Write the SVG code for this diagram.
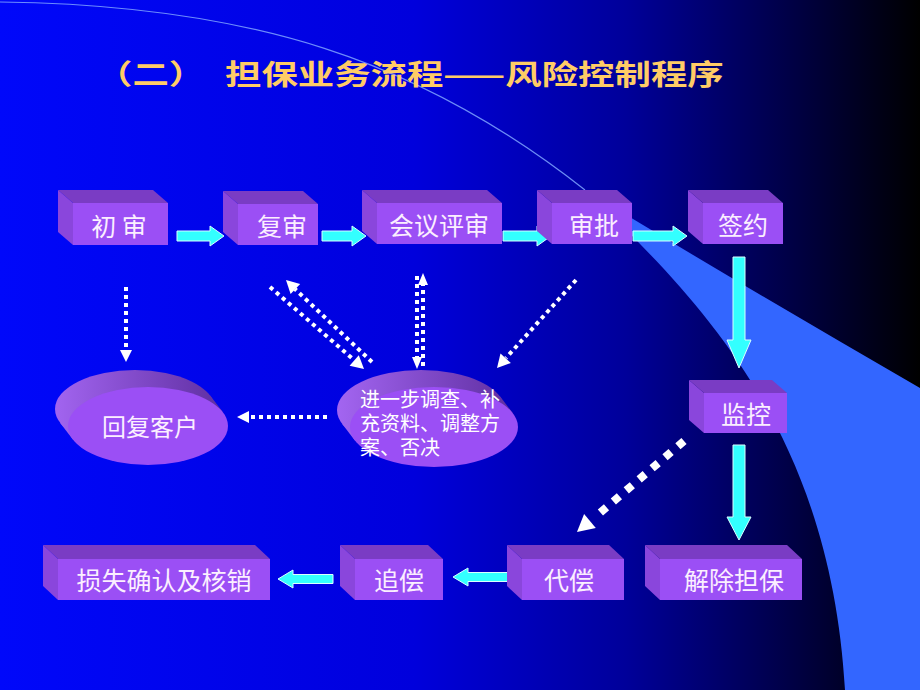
<svg xmlns="http://www.w3.org/2000/svg" width="920" height="690" viewBox="0 0 920 690">
  <defs>
    <linearGradient id="bg" x1="0" y1="0" x2="1" y2="0">
      <stop offset="0" stop-color="#0008fa"/>
      <stop offset="0.45" stop-color="#0000dc"/>
      <stop offset="0.68" stop-color="#00009a"/>
      <stop offset="0.85" stop-color="#00004a"/>
      <stop offset="1" stop-color="#000000"/>
    </linearGradient>
    <linearGradient id="side1" gradientUnits="userSpaceOnUse" x1="50" y1="400" x2="225" y2="400">
      <stop offset="0" stop-color="#a466f2"/>
      <stop offset="1" stop-color="#5e2ea0"/>
    </linearGradient>
    <linearGradient id="side2" gradientUnits="userSpaceOnUse" x1="335" y1="400" x2="515" y2="400">
      <stop offset="0" stop-color="#a466f2"/>
      <stop offset="1" stop-color="#5e2ea0"/>
    </linearGradient>
    <style>
      .top{fill:#7a3cc4}
      .left{fill:#8a46dc}
      .front{fill:#9b4ff5}
      .lbl{font-family:"Noto Sans CJK SC","Liberation Sans",sans-serif;font-size:25px;fill:#fbefff;text-anchor:middle}
      .cy{fill:#33ffff;stroke:#d8ffff;stroke-width:1}
      .dot{fill:none;stroke:#ffffff;stroke-width:4;stroke-dasharray:4 4}
      .dotb{fill:none;stroke:#ffffff;stroke-width:8;stroke-dasharray:8 9}
      .hd{fill:#ffffff}
    </style>
  </defs>

  <!-- background -->
  <rect x="0" y="0" width="920" height="690" fill="url(#bg)"/>
  <path d="M585,190 C700,300 830,430 845,690 L920,690 L920,388 Q750,290 585,190 Z" fill="#3366ff"/>
  <path d="M0,2 C250,5 420,60 585,190" fill="none" stroke="#7fa4ff" stroke-width="1.2" stroke-opacity="0.85"/>

  <!-- title -->
  <g fill="#ffcc66" font-family="'Noto Sans CJK SC','Liberation Sans',sans-serif" font-weight="bold" font-size="28">
    <text transform="translate(96,85) scale(1.3,1)">（二）</text>
    <text transform="translate(225,85) scale(1.3,1)">担保业务流程——风险控制程序</text>
  </g>

  <!-- connectors -->
  <g id="connectors">
    <!-- cyan solid arrows -->
    <polygon class="cy" points="177,231 210,231 210,226 224,236 210,246 210,241 177,241"/>
    <polygon class="cy" points="322,231 352,231 352,226 366,236 352,246 352,241 322,241"/>
    <polygon class="cy" points="503,231 537,231 537,226 551,236 537,246 537,241 503,241"/>
    <polygon class="cy" points="633,231 673,231 673,226 687,236 673,246 673,241 633,241"/>
    <polygon class="cy" points="733,257 745,257 745,340 751,340 739,368 727,340 733,340"/>
    <polygon class="cy" points="733,445 745,445 745,517 751,517 739,540 727,517 733,517"/>
    <polygon class="cy" points="512,572.5 468,572.5 468,568 453,577 468,586 468,581.5 512,581.5"/>
    <polygon class="cy" points="333,574.5 293,574.5 293,570 278,579 293,588 293,583.5 333,583.5"/>

    <!-- white dotted arrows -->
    <line class="dot" x1="126" y1="287" x2="126" y2="350"/>
    <polygon class="hd" points="120,350 132,350 126,362"/>

    <line class="dot" x1="270" y1="287" x2="354" y2="360"/>
    <polygon class="hd" points="349.6,365.7 358.8,355.2 364,369"/>

    <line class="dot" x1="372" y1="362" x2="295" y2="289"/>
    <polygon class="hd" points="300.2,283.9 290.6,294.1 286,280"/>

    <line class="dot" x1="417" y1="276" x2="417" y2="357"/>
    <polygon class="hd" points="412,357 422,357 417,369"/>
    <line class="dot" x1="423" y1="366" x2="423" y2="285"/>
    <polygon class="hd" points="418,285 428,285 423,273"/>

    <line class="dot" x1="576" y1="280" x2="506" y2="358"/>
    <polygon class="hd" points="500.5,353.6 510.9,363 497,368"/>

    <line class="dot" x1="327" y1="417" x2="249" y2="417"/>
    <polygon class="hd" points="249,411 249,423 237,417"/>

    <line class="dotb" x1="684" y1="441" x2="594" y2="518"/>
    <polygon class="hd" points="584.1,514.1 595.8,527.9 577,532"/>
  </g>

  <!-- nodes -->
  <g id="n-chushen">
    <polygon class="top" points="58,190 153,190 168,203 73,203"/>
    <polygon class="left" points="58,190 73,203 73,245 58,232"/>
    <rect class="front" x="73" y="203" width="95" height="42"/>
    <text class="lbl" x="119" y="236">初 审</text>
  </g>
  <g id="n-fushen">
    <polygon class="top" points="223,191 303,191 318,204 238,204"/>
    <polygon class="left" points="223,191 238,204 238,245 223,232"/>
    <rect class="front" x="238" y="204" width="80" height="41"/>
    <text class="lbl" x="282" y="236">复审</text>
  </g>
  <g id="n-huiyi">
    <polygon class="top" points="362,190 487,190 502,203 377,203"/>
    <polygon class="left" points="362,190 377,203 377,244 362,231"/>
    <rect class="front" x="377" y="203" width="125" height="41"/>
    <text class="lbl" x="439" y="235">会议评审</text>
  </g>
  <g id="n-shenpi">
    <polygon class="top" points="537,190 617,190 632,203 552,203"/>
    <polygon class="left" points="537,190 552,203 552,244 537,231"/>
    <rect class="front" x="552" y="203" width="80" height="41"/>
    <text class="lbl" x="594" y="235">审批</text>
  </g>
  <g id="n-qianyue">
    <polygon class="top" points="688,190 768,190 783,203 703,203"/>
    <polygon class="left" points="688,190 703,203 703,244 688,231"/>
    <rect class="front" x="703" y="203" width="80" height="41"/>
    <text class="lbl" x="743" y="235">签约</text>
  </g>
  <g id="n-jiankong">
    <polygon class="top" points="689,380 772,380 787,393 704,393"/>
    <polygon class="left" points="689,380 704,393 704,433 689,420"/>
    <rect class="front" x="704" y="393" width="83" height="40"/>
    <text class="lbl" x="746" y="424">监控</text>
  </g>
  <g id="n-jiechu">
    <polygon class="top" points="645,545 787,545 802,559 660,559"/>
    <polygon class="left" points="645,545 660,559 660,600 645,586"/>
    <rect class="front" x="660" y="559" width="142" height="41"/>
    <text class="lbl" x="734" y="590">解除担保</text>
  </g>
  <g id="n-daichang">
    <polygon class="top" points="507,545 609,545 624,559 522,559"/>
    <polygon class="left" points="507,545 522,559 522,600 507,586"/>
    <rect class="front" x="522" y="559" width="102" height="41"/>
    <text class="lbl" x="569" y="590">代偿</text>
  </g>
  <g id="n-zhuichang">
    <polygon class="top" points="340,545 428,545 443,559 355,559"/>
    <polygon class="left" points="340,545 355,559 355,600 340,586"/>
    <rect class="front" x="355" y="559" width="88" height="41"/>
    <text class="lbl" x="399" y="590">追偿</text>
  </g>
  <g id="n-sunshi">
    <polygon class="top" points="43,545 255,545 270,559 58,559"/>
    <polygon class="left" points="43,545 58,559 58,600 43,586"/>
    <rect class="front" x="58" y="559" width="212" height="41"/>
    <text class="lbl" x="164" y="590">损失确认及核销</text>
  </g>
  <g id="n-huifu">
    <ellipse cx="135" cy="409" rx="80" ry="39" fill="url(#side1)"/>
    <polygon points="209.96,395.37 60.04,422.63 73.04,439.63 222.96,412.37" fill="url(#side1)"/>
    <ellipse class="front" cx="148" cy="426" rx="80" ry="39"/>
    <text class="lbl" x="150" y="436" style="font-size:24px">回复客户</text>
  </g>
  <g id="n-jinyibu">
    <ellipse cx="421" cy="410" rx="84" ry="40" fill="url(#side2)"/>
    <polygon points="499.93,396.31 342.07,423.69 355.07,440.69 512.93,413.31" fill="url(#side2)"/>
    <ellipse class="front" cx="434" cy="427" rx="84" ry="40"/>
    <text font-family="'Noto Sans CJK SC','Liberation Sans',sans-serif" font-size="20" fill="#ffffff" x="360" y="407"><tspan x="360" y="407">进一步调查、补</tspan><tspan x="360" y="431">充资料、调整方</tspan><tspan x="360" y="455">案、否决</tspan></text>
  </g>
</svg>
